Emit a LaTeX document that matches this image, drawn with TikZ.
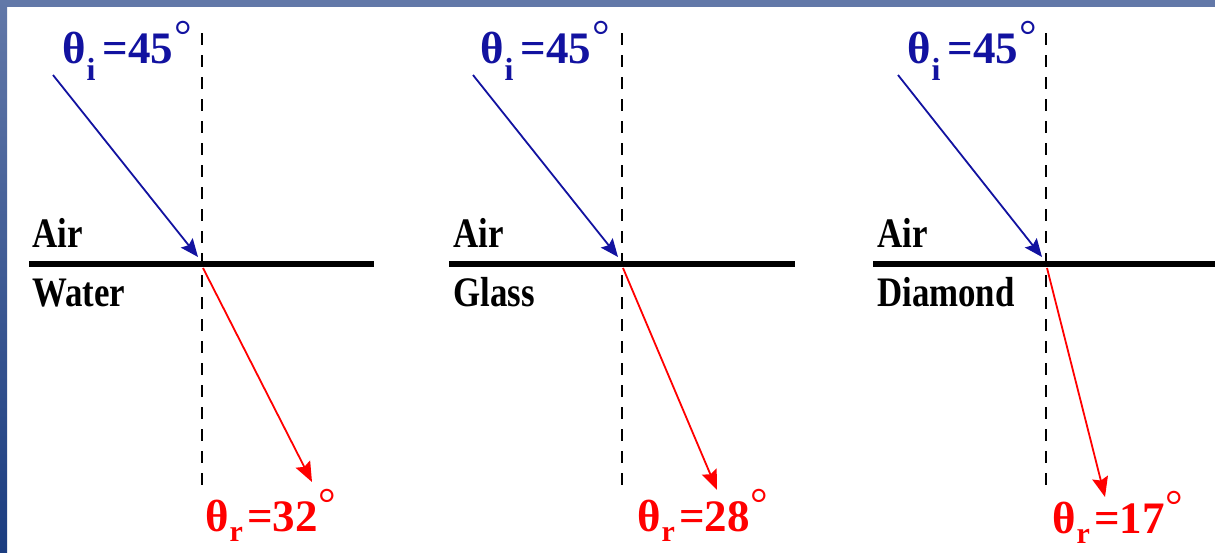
\documentclass[tikz,border=0pt]{standalone}
\usepackage{fontspec,graphicx}
\setmainfont{Liberation Serif}
\usetikzlibrary{arrows.meta,positioning,calc}
\definecolor{incblue}{RGB}{18,18,160}
\definecolor{bandtop}{RGB}{98,120,168}
\definecolor{bandbot}{RGB}{27,61,128}
\newcommand{\degr}{\kern1pt\raisebox{13pt}{\fontsize{44}{44}\selectfont\mdseries °}}
\newcommand{\angi}[1]{θ\kern1pt\raisebox{-17pt}{\fontsize{32}{32}\selectfont i}\kern7pt=#1\degr}
\newcommand{\angr}[1]{θ\kern1pt\raisebox{-10pt}{\fontsize{30}{30}\selectfont r}\kern4pt=#1\degr}
\newcommand{\medium}[1]{\scalebox{0.83}[1]{#1}}

\begin{document}
\begin{tikzpicture}[x=1pt,y=-1pt,>=Stealth,
  lbl/.style={anchor=base west,inner sep=0pt,font=\fontsize{45}{48}\selectfont\bfseries},
  mtl/.style={anchor=base west,inner sep=0pt,font=\fontsize{42}{46}\selectfont\bfseries},
  surface/.style={line width=5.5pt},
  normal/.style={line width=2.5pt,dash pattern=on 12pt off 10pt},
  incray/.style={incblue,line width=1.8pt,arrows={-Stealth[length=18pt,width=15pt,inset=3pt]}},
  refray/.style={red,line width=1.8pt,arrows={-Stealth[length=20pt,width=16pt,inset=3pt]}}]
\fill[white] (0,0) rectangle (1215,552);
\useasboundingbox (0,0) rectangle (1215,552);
\fill[bandtop] (0,0) rectangle (1215,7);
\shade[top color=bandtop,bottom color=bandbot] (0,0) rectangle (7,552);
% air / water
\coordinate (w1) at (29,264);\coordinate (e1) at (374,264);
\coordinate (nt1) at (202,33);\coordinate (nb1) at (202,494);
\coordinate (s1) at (53,75);\coordinate (h1) at (198,257);
\coordinate (o1) at (203,268);\coordinate (t1) at (312,482);
\draw[surface] (w1)--(e1);\draw[normal] (nt1)--(nb1);
\draw[incray] (s1)--(h1);\draw[refray] (o1)--(t1);
\node[lbl,incblue] (ti1) at (62,63){\angi{45}};
\node[mtl] (air1) at (32,247){\medium{Air}};\node[mtl] (mat1) at (32,306){\medium{Water}};
\node[lbl,red] (tr1) at (205,531){\angr{32}};
% air / glass
\coordinate (w2) at (449,264);\coordinate (e2) at (795,264);
\coordinate (nt2) at (622,33);\coordinate (nb2) at (622,494);
\coordinate (s2) at (473,75);\coordinate (h2) at (618,257);
\coordinate (o2) at (623,268);\coordinate (t2) at (717,490);
\draw[surface] (w2)--(e2);\draw[normal] (nt2)--(nb2);
\draw[incray] (s2)--(h2);\draw[refray] (o2)--(t2);
\node[lbl,incblue] (ti2) at (480,63){\angi{45}};
\node[mtl] (air2) at (453,247){\medium{Air}};\node[mtl] (mat2) at (453,306){\medium{Glass}};
\node[lbl,red] (tr2) at (637,531){\angr{28}};
% air / diamond
\coordinate (w3) at (873,264);\coordinate (e3) at (1215,264);
\coordinate (nt3) at (1046,33);\coordinate (nb3) at (1046,494);
\coordinate (s3) at (898,75);\coordinate (h3) at (1042,257);
\coordinate (o3) at (1047,268);\coordinate (t3) at (1105,497);
\draw[surface] (w3)--(e3);\draw[normal] (nt3)--(nb3);
\draw[incray] (s3)--(h3);\draw[refray] (o3)--(t3);
\node[lbl,incblue] (ti3) at (907,63){\angi{45}};
\node[mtl] (air3) at (877,247){\medium{Air}};\node[mtl] (mat3) at (877,306){\medium{Diamond}};
\node[lbl,red] (tr3) at (1052,533){\angr{17}};
\end{tikzpicture}
\end{document}
